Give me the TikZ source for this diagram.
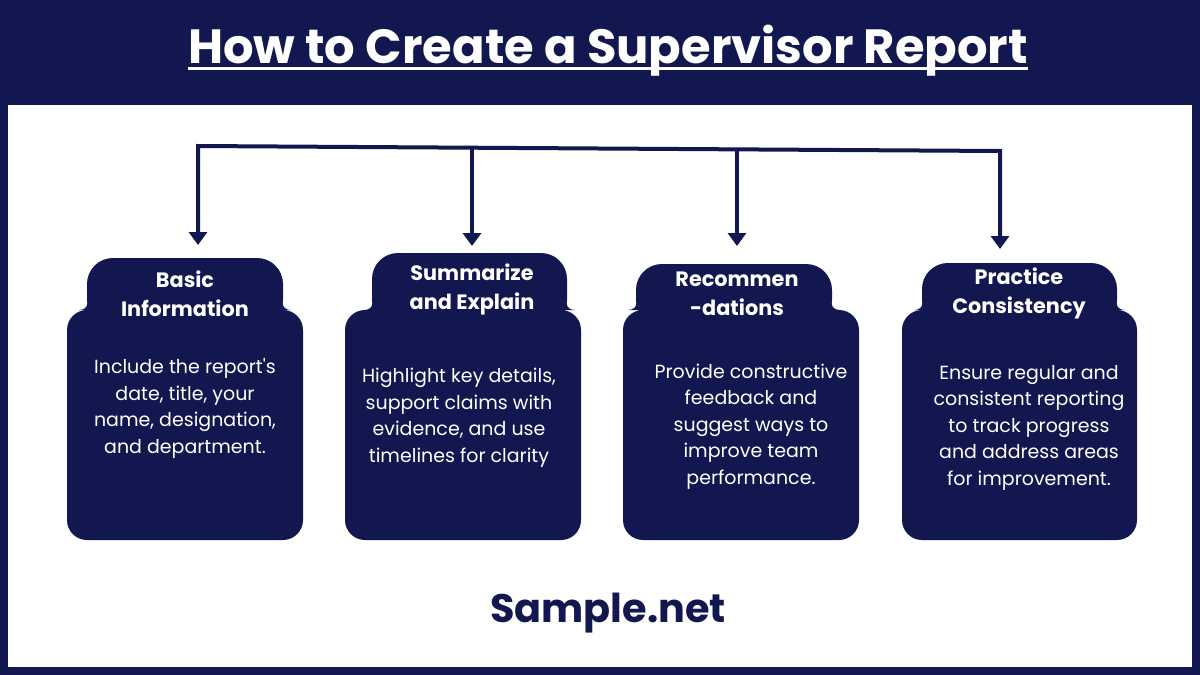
\documentclass[tikz,border=0pt]{standalone}
\usepackage{fontspec}
\setmainfont{Poppins}
\usetikzlibrary{arrows.meta}
\definecolor{navy}{HTML}{12174F}
\newcommand\drawcard[5]{%
 \fill[navy, rounded corners=20pt] (#1,310) rectangle (#2,540);
 \fill[navy, rounded corners=26pt] (#3,#5) rectangle (#4,326);
 \fill[navy] ({#3+0.3},303) .. controls ({#3+0.3},307.5) and ({#3-3},310) .. ({#3-8},310) -- ({#3+5},310) -- cycle;
 \fill[navy] ({#4-0.3},303) .. controls ({#4-0.3},307.5) and ({#4+3},310) .. ({#4+8},310) -- ({#4-5},310) -- cycle;
}
\begin{document}
\begin{tikzpicture}[x=1pt,y=-1pt,
  conn/.style={line width=4pt, draw=navy},
  tip/.tip={Triangle[width=18pt,length=13pt]},
  head/.style={text=white, font=\fontsize{20.8}{29}\selectfont\bfseries, align=center, inner sep=0pt},
  desc/.style={text=white, font=\fontsize{19}{26.5}\selectfont, align=center, inner sep=0pt},
]
\useasboundingbox (0,0) rectangle (1200,675);
\fill[navy] (0,0) rectangle (1200,675);
\fill[white] (8,105) rectangle (1192,667);

% title
\node[text=white, font=\fontsize{48}{56}\selectfont\bfseries, anchor=base, inner sep=0pt] (title) at (608,63) {How to Create a Supervisor Report};
\draw[white, line width=3pt] ([yshift=-5.5pt]title.base west) -- ([yshift=-5.5pt]title.base east);

% cards
\drawcard{67}{303}{87}{283}{258}
\drawcard{345}{581}{372}{567}{253}
\drawcard{623}{859}{636}{832}{264}
\drawcard{902}{1137}{922}{1117}{263}

% connectors
\coordinate (j1) at (198,146);
\coordinate (j2) at (472,147.7);
\coordinate (j3) at (737,149.4);
\coordinate (j4) at (1000,151);
\coordinate (e1) at (198,245);
\coordinate (e2) at (472,246);
\coordinate (e3) at (737,246);
\coordinate (e4) at (1000,249);
\draw[conn, tip-tip] (e1) -- (j1) -- (j4) -- (e4);
\draw[conn, -tip] (j2) -- (e2);
\draw[conn, -tip] (j3) -- (e3);

% headings
\node[head] (h1) at (185,293.5) {Basic\\Information};
\node[head] (h2) at (472,289) {Summarize\\and Explain};
\node[head] (h3) at (737,294) {Recommen\\-dations};
\node[head] (h4) at (1019,293.5) {Practice\\Consistency};

% descriptions
\node[desc] (d1) at (185,408.5) {Include the report\textquotesingle s\\date, title, your\\name, designation,\\and department.};
\node[desc] (d2) at (459,417.5) {Highlight key details,\\support claims with\\evidence, and use\\timelines for clarity};
\node[desc] (d3) at (751,426.5) {Provide constructive\\feedback and\\suggest ways to\\improve team\\performance.};
\node[desc] (d4) at (1029,427.5) {Ensure regular and\\consistent reporting\\to track progress\\and address areas\\for improvement.};

% footer
\node[text=navy, font=\fontsize{39.8}{48}\selectfont\bfseries, anchor=base, inner sep=0pt] (brand) at (608,622) {Sample.net};
\end{tikzpicture}
\end{document}
